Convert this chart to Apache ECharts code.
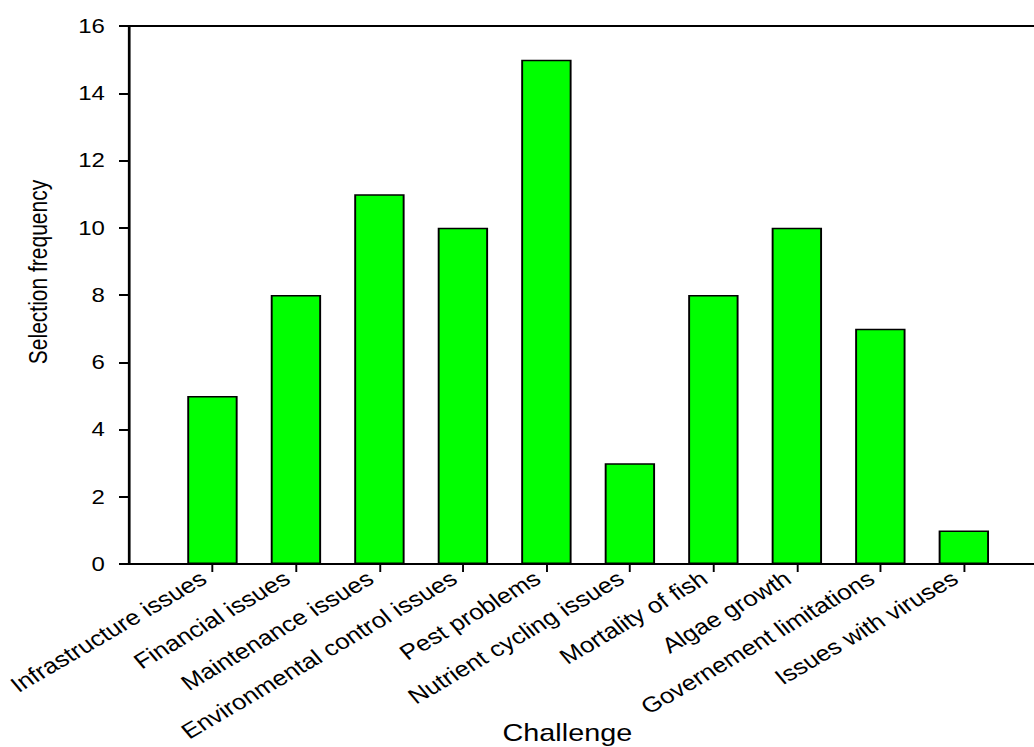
<!DOCTYPE html>
<html><head><meta charset="utf-8">
<style>
html,body{margin:0;padding:0;background:#fff;overflow:hidden}
#wrap{width:1034px;height:747px;overflow:hidden;position:relative;background:#fff}
#chart{width:862px;height:747px;transform:scaleX(1.19954);transform-origin:0 0;}
</style>
<script src="https://cdn.jsdelivr.net/npm/echarts@6.0.0/dist/echarts.min.js"></script>
</head><body>
<div id="wrap"><div id="chart"></div></div>
<script>
const categories = ["Infrastructure issues","Financial issues","Maintenance issues","Environmental control issues","Pest problems","Nutrient cycling issues","Mortality of fish","Algae growth","Governement limitations","Issues with viruses"];
const values = [5, 8, 11, 10, 15, 3, 8, 10, 7, 1];
const yTicks = {min: 0, max: 16, interval: 2};
const xTitle = "Challenge";
const yTitle = "Selection frequency";

const axisCats = [''].concat(categories, ['']);
const axisVals = ['-'].concat(values, ['-']);
const FONT = "'Liberation Sans', Arial, sans-serif";

const chart = echarts.init(document.getElementById('chart'), null, {renderer: 'svg'});
chart.setOption({
  animation: false,
  backgroundColor: '#fff',
  grid: {left: 107.5, width: 765.6, top: 26, bottom: 183, outerBoundsMode: 'none', containLabel: false,
    show: true, borderColor: '#000', borderWidth: 1.8, backgroundColor: 'transparent'},
  xAxis: {
    type: 'category', data: axisCats, boundaryGap: false,
    axisLine: {lineStyle: {color: '#000', width: 2}},
    axisTick: {show: true, length: 8, lineStyle: {color: '#000', width: 1.6},
      interval: function (i) { return i > 0 && i < axisCats.length - 1; }},
    axisLabel: {interval: 0, rotate: 35, margin: 7, padding: [0, 9, 0, 0], color: '#000', fontSize: 21.5, fontFamily: FONT},
    splitLine: {show: false}
  },
  yAxis: {
    type: 'value', min: yTicks.min, max: yTicks.max, interval: yTicks.interval,
    axisLine: {show: true, lineStyle: {color: '#000', width: 1.7}},
    axisTick: {show: true, length: 8.3, lineStyle: {color: '#000', width: 2}},
    axisLabel: {margin: 20, color: '#000', fontSize: 20, fontFamily: FONT},
    splitLine: {show: false}
  },
  graphic: [
    {type: 'text', x: 32, y: 272, rotation: Math.PI / 2,
      style: {text: yTitle, fontSize: 21, fontFamily: FONT, fill: '#000', textAlign: 'center', textVerticalAlign: 'middle'}},
    {type: 'text', x: 473, y: 733,
      style: {text: xTitle, fontSize: 24, fontFamily: FONT, fill: '#000', textAlign: 'center', textVerticalAlign: 'middle'}}
  ],
  series: [{
    type: 'bar', data: axisVals, barWidth: 42,
    itemStyle: {color: '#00ff00', borderColor: '#000', borderWidth: 1.6}
  }]
});
</script>
</body></html>
